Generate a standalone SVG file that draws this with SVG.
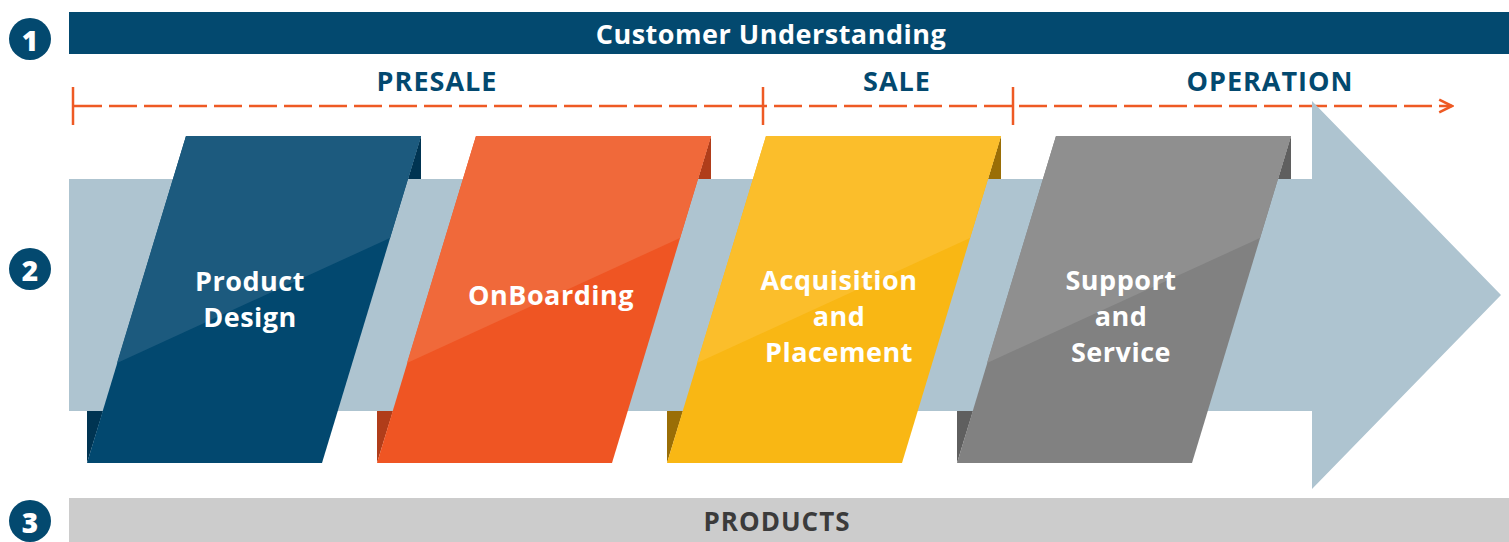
<svg xmlns="http://www.w3.org/2000/svg" width="1509" height="542" viewBox="0 0 1509 542">
<style>
.t{font-family:"Open Sans","Liberation Sans",sans-serif;font-weight:700;text-anchor:middle;dominant-baseline:central}
.w{fill:#ffffff;font-size:27px;letter-spacing:0.5px}
.h{fill:#03496f;font-size:27px;letter-spacing:1px}
.num{fill:#ffffff;font-size:28px;font-family:"Open Sans","Liberation Sans",sans-serif;font-weight:800;text-anchor:middle;dominant-baseline:central}
.dash{stroke:#ee5a24;stroke-width:2.5;fill:none}
</style>
<defs>
<marker id="ah" viewBox="0 0 10 10" refX="9" refY="5" markerWidth="16" markerHeight="16" markerUnits="userSpaceOnUse" orient="auto">
<path d="M1,1 L9,5 L1,9" fill="none" stroke="#ee5a24" stroke-width="1.6"/>
</marker>
</defs>
<g id="badges">
<circle cx="30" cy="39" r="21" fill="#03496f"/><text class="num" x="30" y="40">1</text>
<circle cx="30" cy="269" r="21" fill="#03496f"/><text class="num" x="30" y="270">2</text>
<circle cx="30" cy="521" r="21" fill="#03496f"/><text class="num" x="30" y="522">3</text>
</g>
<g id="customer-understanding">
<rect x="69" y="12" width="1440" height="42" fill="#03496f"/>
<text class="t w" x="771" y="33">Customer Understanding</text>
</g>
<g id="timeline">
<text class="t h" x="437" y="80">PRESALE</text>
<text class="t h" x="897" y="80">SALE</text>
<text class="t h" x="1270" y="80">OPERATION</text>
</g>
<g id="connectors">
<line class="dash" x1="74" y1="106" x2="1452" y2="106" stroke-dasharray="28 7" marker-end="url(#ah)"/>
<line class="dash" x1="73" y1="87" x2="73" y2="125"/>
<line class="dash" x1="763" y1="87" x2="763" y2="125"/>
<line class="dash" x1="1013" y1="87" x2="1013" y2="125"/>
</g>
<g id="big-arrow">
<polygon points="69,179 1312,179 1312,101 1501,295 1312,489 1312,411 69,411" fill="#aec4d0"/>
</g>
<g id="product-design">
<polygon points="421,136 421,179 408,179" fill="#003452"/>
<polygon points="87,463 87,411 103,411" fill="#003452"/>
<polygon points="186,136 421,136 322,463 87,463" fill="#02486f"/>
<polygon points="186,136 421,136 390,238 117,363" fill="#1c5a7e"/>
<text class="t w" x="250" y="280">Product</text>
<text class="t w" x="250" y="316">Design</text>
</g>
<g id="onboarding">
<polygon points="711,136 711,179 698,179" fill="#b03d1a"/>
<polygon points="377,463 377,411 393,411" fill="#b03d1a"/>
<polygon points="476,136 711,136 612,463 377,463" fill="#ef5523"/>
<polygon points="476,136 711,136 680,238 407,363" fill="#f0693a"/>
<text class="t w" x="551" y="294">OnBoarding</text>
</g>
<g id="acquisition-and-placement">
<polygon points="1001,136 1001,179 988,179" fill="#9a6e06"/>
<polygon points="667,463 667,411 683,411" fill="#9a6e06"/>
<polygon points="766,136 1001,136 902,463 667,463" fill="#f9b714"/>
<polygon points="766,136 1001,136 970,238 697,363" fill="#fbbe2b"/>
<text class="t w" x="839" y="279">Acquisition</text>
<text class="t w" x="839" y="315">and</text>
<text class="t w" x="839" y="351">Placement</text>
</g>
<g id="support-and-service">
<polygon points="1291,136 1291,179 1278,179" fill="#5f5f5f"/>
<polygon points="957,463 957,411 973,411" fill="#5f5f5f"/>
<polygon points="1056,136 1291,136 1192,463 957,463" fill="#818181"/>
<polygon points="1056,136 1291,136 1260,238 987,363" fill="#8f8f8f"/>
<text class="t w" x="1121" y="279">Support</text>
<text class="t w" x="1121" y="315">and</text>
<text class="t w" x="1121" y="351">Service</text>
</g>
<g id="products">
<rect x="69" y="498" width="1440" height="44" fill="#cccccc"/>
<text class="t" x="777" y="521" style="fill:#3b3b3b;font-size:26px;letter-spacing:1px">PRODUCTS</text>
</g>
</svg>
